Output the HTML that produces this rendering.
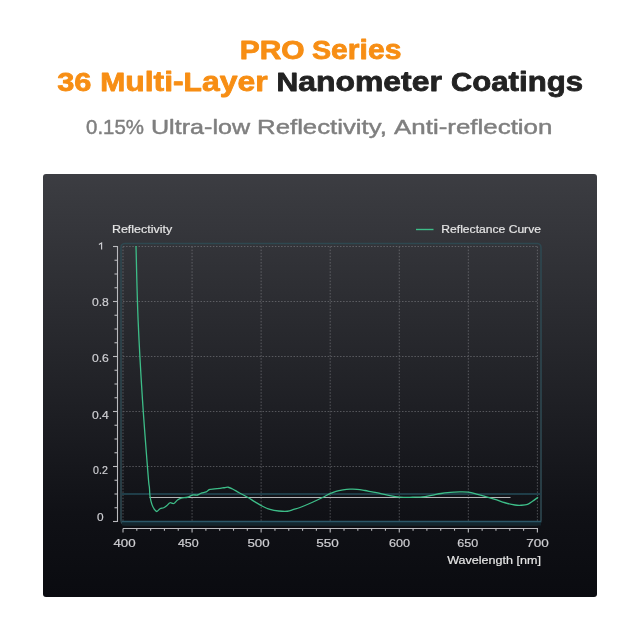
<!DOCTYPE html>
<html><head><meta charset="utf-8">
<style>
html,body{margin:0;padding:0;width:640px;height:640px;overflow:hidden;background:#fff;}
svg{position:absolute;left:0;top:0;will-change:transform;}
text{font-family:"Liberation Sans",sans-serif;}
</style></head><body>
<svg width="640" height="640" viewBox="0 0 640 640">
<defs>
<linearGradient id="bg" x1="0" y1="0" x2="0" y2="1">
<stop offset="0" stop-color="#3c3d42"/>
<stop offset="0.5" stop-color="#212227"/>
<stop offset="0.8" stop-color="#101116"/>
<stop offset="1" stop-color="#0a0b10"/>
</linearGradient>
</defs>
<text x="239.7" y="59.1" font-size="26.3" font-weight="bold" fill="#f78e14" stroke="#f78e14" stroke-width="0.8" stroke-linejoin="round" textLength="64.85" lengthAdjust="spacingAndGlyphs">PRO</text>
<text x="312.01" y="59.1" font-size="26.3" font-weight="bold" fill="#f78e14" stroke="#f78e14" stroke-width="0.8" stroke-linejoin="round" textLength="89.36" lengthAdjust="spacingAndGlyphs">S<tspan font-size="27.6">eries</tspan></text>
<text x="57.22" y="91.4" font-size="26" font-weight="bold" fill="#f78e14" stroke="#f78e14" stroke-width="0.8" stroke-linejoin="round" textLength="34.17" lengthAdjust="spacingAndGlyphs">36</text>
<text x="100.19" y="91.4" font-size="26" font-weight="bold" fill="#f78e14" stroke="#f78e14" stroke-width="0.8" stroke-linejoin="round" textLength="167.37" lengthAdjust="spacingAndGlyphs">M<tspan font-size="27.6">ulti-</tspan>L<tspan font-size="27.6">ayer</tspan></text>
<text x="276.59" y="91.4" font-size="26" font-weight="bold" fill="#222222" stroke="#222222" stroke-width="0.8" stroke-linejoin="round" textLength="165.31" lengthAdjust="spacingAndGlyphs">N<tspan font-size="27.6">anometer</tspan></text>
<text x="451.07" y="91.4" font-size="26" font-weight="bold" fill="#222222" stroke="#222222" stroke-width="0.8" stroke-linejoin="round" textLength="131.95" lengthAdjust="spacingAndGlyphs">C<tspan font-size="27.6">oatings</tspan></text>
<text x="86.09" y="133.8" font-size="20.2" font-weight="normal" fill="#7f7f7f" stroke="#7f7f7f" stroke-width="0.45" stroke-linejoin="round" textLength="57.91" lengthAdjust="spacingAndGlyphs">0.15%</text>
<text x="150.95" y="133.8" font-size="20.2" font-weight="normal" fill="#7f7f7f" stroke="#7f7f7f" stroke-width="0.45" stroke-linejoin="round" textLength="99.2" lengthAdjust="spacingAndGlyphs">Ultra-low</text>
<text x="257.05" y="133.8" font-size="20.2" font-weight="normal" fill="#7f7f7f" stroke="#7f7f7f" stroke-width="0.45" stroke-linejoin="round" textLength="129.85" lengthAdjust="spacingAndGlyphs">Reflectivity,</text>
<text x="394.1" y="133.8" font-size="20.2" font-weight="normal" fill="#7f7f7f" stroke="#7f7f7f" stroke-width="0.45" stroke-linejoin="round" textLength="158.32" lengthAdjust="spacingAndGlyphs">Anti-reflection</text>
<rect x="43" y="174" width="554" height="423" rx="3" fill="url(#bg)"/>
<g stroke="#8e8f94" stroke-width="1" stroke-dasharray="1.5 1.6" fill="none" opacity="0.5">
<line x1="123.00" y1="246.5" x2="123.00" y2="521.5"/>
<line x1="192.07" y1="246.5" x2="192.07" y2="521.5"/>
<line x1="261.13" y1="246.5" x2="261.13" y2="521.5"/>
<line x1="330.20" y1="246.5" x2="330.20" y2="521.5"/>
<line x1="399.27" y1="246.5" x2="399.27" y2="521.5"/>
<line x1="468.33" y1="246.5" x2="468.33" y2="521.5"/>
<line x1="537.40" y1="246.5" x2="537.40" y2="521.5"/>
<line x1="123.0" y1="466.50" x2="537.4" y2="466.50"/>
<line x1="123.0" y1="411.50" x2="537.4" y2="411.50"/>
<line x1="123.0" y1="356.50" x2="537.4" y2="356.50"/>
<line x1="123.0" y1="301.50" x2="537.4" y2="301.50"/>
<line x1="123.0" y1="246.50" x2="537.4" y2="246.50"/>
</g>
<rect x="121" y="243.5" width="420" height="281" rx="4" fill="none" stroke="#2e4850" stroke-width="1.6"/>
<line x1="122" y1="494" x2="541" y2="494" stroke="#1f3d48" stroke-width="2"/>
<rect x="122" y="522" width="419" height="3.5" fill="#13252d"/>
<line x1="122" y1="521.5" x2="541" y2="521.5" stroke="#2b5768" stroke-width="1.3"/>
<line x1="149.5" y1="497.5" x2="510.5" y2="497.5" stroke="#b4b4b6" stroke-width="1"/>
<path d="M136.00,246.00 C136.35,258.33 137.02,294.33 138.10,320.00 C139.18,345.67 140.83,374.17 142.50,400.00 C144.17,425.83 146.95,460.42 148.10,475.00 C149.25,489.58 149.08,483.96 149.40,487.50 C149.72,491.04 149.58,493.43 150.00,496.25 C150.42,499.07 151.17,502.21 151.90,504.40 C152.63,506.59 153.57,508.22 154.40,509.40 C155.23,510.58 155.97,511.61 156.90,511.50 C157.83,511.39 158.86,509.38 160.00,508.75 C161.14,508.12 162.60,508.27 163.75,507.75 C164.90,507.23 165.86,506.43 166.90,505.60 C167.94,504.77 168.86,503.10 170.00,502.75 C171.14,502.40 172.50,503.96 173.75,503.50 C175.00,503.04 176.25,500.90 177.50,500.00 C178.75,499.10 179.58,498.56 181.25,498.10 C182.92,497.64 185.62,497.77 187.50,497.25 C189.38,496.73 190.83,495.38 192.50,495.00 C194.17,494.62 196.04,495.32 197.50,495.00 C198.96,494.68 199.79,493.62 201.25,493.10 C202.71,492.58 204.79,492.52 206.25,491.90 C207.71,491.28 207.71,490.00 210.00,489.40 C212.29,488.80 217.71,488.57 220.00,488.30 C222.29,488.03 222.40,487.93 223.75,487.75 C225.10,487.57 226.64,487.04 228.10,487.25 C229.56,487.46 230.72,488.12 232.50,489.00 C234.28,489.88 236.25,491.12 238.75,492.50 C241.25,493.88 244.79,495.68 247.50,497.25 C250.21,498.82 252.50,500.40 255.00,501.90 C257.50,503.40 260.00,505.00 262.50,506.25 C265.00,507.50 267.29,508.61 270.00,509.40 C272.71,510.19 275.83,510.69 278.75,511.00 C281.67,511.31 285.00,511.52 287.50,511.25 C290.00,510.98 291.67,510.02 293.75,509.40 C295.83,508.77 296.88,508.69 300.00,507.50 C303.12,506.31 308.75,503.92 312.50,502.25 C316.25,500.58 319.58,498.94 322.50,497.50 C325.42,496.06 327.75,494.63 330.00,493.60 C332.25,492.57 333.83,491.92 336.00,491.30 C338.17,490.68 340.67,490.25 343.00,489.90 C345.33,489.55 347.67,489.30 350.00,489.20 C352.33,489.10 354.50,489.08 357.00,489.30 C359.50,489.52 362.50,490.07 365.00,490.50 C367.50,490.93 369.50,491.43 372.00,491.90 C374.50,492.37 377.00,492.68 380.00,493.30 C383.00,493.92 386.67,494.97 390.00,495.60 C393.33,496.23 397.00,496.80 400.00,497.10 C403.00,497.40 405.50,497.40 408.00,497.40 C410.50,497.40 412.58,497.20 415.00,497.10 C417.42,497.00 420.00,497.05 422.50,496.80 C425.00,496.55 427.92,495.97 430.00,495.60 C432.08,495.23 433.17,494.95 435.00,494.60 C436.83,494.25 438.92,493.83 441.00,493.50 C443.08,493.17 445.33,492.83 447.50,492.60 C449.67,492.37 451.92,492.22 454.00,492.10 C456.08,491.98 457.58,491.88 460.00,491.90 C462.42,491.92 465.58,491.78 468.50,492.20 C471.42,492.62 474.75,493.70 477.50,494.40 C480.25,495.10 482.08,495.58 485.00,496.40 C487.92,497.22 491.67,498.24 495.00,499.30 C498.33,500.36 501.67,501.80 505.00,502.75 C508.33,503.70 512.29,504.58 515.00,505.00 C517.71,505.42 519.17,505.35 521.25,505.25 C523.33,505.15 525.62,505.07 527.50,504.40 C529.38,503.73 530.73,502.44 532.50,501.25 C534.27,500.06 537.17,497.92 538.10,497.25" fill="none" stroke="#3dbd88" stroke-width="1.3" stroke-linejoin="round"/>
<g stroke="#bababe" stroke-width="1.1">
<line x1="117.5" y1="246" x2="117.5" y2="522"/>
<line x1="123" y1="528.5" x2="538" y2="528.5"/>
<line x1="113.00" y1="246.50" x2="117.5" y2="246.50"/>
<line x1="114.50" y1="260.25" x2="117.5" y2="260.25"/>
<line x1="114.50" y1="274.00" x2="117.5" y2="274.00"/>
<line x1="114.50" y1="287.75" x2="117.5" y2="287.75"/>
<line x1="113.00" y1="301.50" x2="117.5" y2="301.50"/>
<line x1="114.50" y1="315.25" x2="117.5" y2="315.25"/>
<line x1="114.50" y1="329.00" x2="117.5" y2="329.00"/>
<line x1="114.50" y1="342.75" x2="117.5" y2="342.75"/>
<line x1="113.00" y1="356.50" x2="117.5" y2="356.50"/>
<line x1="114.50" y1="370.25" x2="117.5" y2="370.25"/>
<line x1="114.50" y1="384.00" x2="117.5" y2="384.00"/>
<line x1="114.50" y1="397.75" x2="117.5" y2="397.75"/>
<line x1="113.00" y1="411.50" x2="117.5" y2="411.50"/>
<line x1="114.50" y1="425.25" x2="117.5" y2="425.25"/>
<line x1="114.50" y1="439.00" x2="117.5" y2="439.00"/>
<line x1="114.50" y1="452.75" x2="117.5" y2="452.75"/>
<line x1="113.00" y1="466.50" x2="117.5" y2="466.50"/>
<line x1="114.50" y1="480.25" x2="117.5" y2="480.25"/>
<line x1="114.50" y1="494.00" x2="117.5" y2="494.00"/>
<line x1="114.50" y1="507.75" x2="117.5" y2="507.75"/>
<line x1="113.00" y1="521.50" x2="117.5" y2="521.50"/>
<line x1="123.00" y1="528.5" x2="123.00" y2="532.5"/>
<line x1="136.81" y1="528.5" x2="136.81" y2="530.7"/>
<line x1="150.63" y1="528.5" x2="150.63" y2="530.7"/>
<line x1="164.44" y1="528.5" x2="164.44" y2="530.7"/>
<line x1="178.25" y1="528.5" x2="178.25" y2="530.7"/>
<line x1="192.07" y1="528.5" x2="192.07" y2="532.5"/>
<line x1="205.88" y1="528.5" x2="205.88" y2="530.7"/>
<line x1="219.69" y1="528.5" x2="219.69" y2="530.7"/>
<line x1="233.51" y1="528.5" x2="233.51" y2="530.7"/>
<line x1="247.32" y1="528.5" x2="247.32" y2="530.7"/>
<line x1="261.13" y1="528.5" x2="261.13" y2="532.5"/>
<line x1="274.95" y1="528.5" x2="274.95" y2="530.7"/>
<line x1="288.76" y1="528.5" x2="288.76" y2="530.7"/>
<line x1="302.57" y1="528.5" x2="302.57" y2="530.7"/>
<line x1="316.39" y1="528.5" x2="316.39" y2="530.7"/>
<line x1="330.20" y1="528.5" x2="330.20" y2="532.5"/>
<line x1="344.01" y1="528.5" x2="344.01" y2="530.7"/>
<line x1="357.83" y1="528.5" x2="357.83" y2="530.7"/>
<line x1="371.64" y1="528.5" x2="371.64" y2="530.7"/>
<line x1="385.45" y1="528.5" x2="385.45" y2="530.7"/>
<line x1="399.27" y1="528.5" x2="399.27" y2="532.5"/>
<line x1="413.08" y1="528.5" x2="413.08" y2="530.7"/>
<line x1="426.89" y1="528.5" x2="426.89" y2="530.7"/>
<line x1="440.71" y1="528.5" x2="440.71" y2="530.7"/>
<line x1="454.52" y1="528.5" x2="454.52" y2="530.7"/>
<line x1="468.33" y1="528.5" x2="468.33" y2="532.5"/>
<line x1="482.15" y1="528.5" x2="482.15" y2="530.7"/>
<line x1="495.96" y1="528.5" x2="495.96" y2="530.7"/>
<line x1="509.77" y1="528.5" x2="509.77" y2="530.7"/>
<line x1="523.59" y1="528.5" x2="523.59" y2="530.7"/>
<line x1="537.40" y1="528.5" x2="537.40" y2="532.5"/>
</g>
<text x="111.91" y="232.5" font-size="10.5" font-weight="normal" fill="#e6e6e6" stroke="#e6e6e6" stroke-width="0.18" stroke-linejoin="round" textLength="60.31" lengthAdjust="spacingAndGlyphs">Reflectivity</text>
<text x="441.35" y="233" font-size="10.5" font-weight="normal" fill="#e6e6e6" stroke="#e6e6e6" stroke-width="0.18" stroke-linejoin="round" textLength="99.59" lengthAdjust="spacingAndGlyphs">Reflectance Curve</text>
<text x="447.2" y="564.2" font-size="10.5" font-weight="normal" fill="#e6e6e6" stroke="#e6e6e6" stroke-width="0.18" stroke-linejoin="round" textLength="93.79" lengthAdjust="spacingAndGlyphs">Wavelength [nm]</text>
<text x="113.4" y="546.9" font-size="10.5" font-weight="normal" fill="#cfcfd3" stroke="#cfcfd3" stroke-width="0.18" stroke-linejoin="round" textLength="22.27" lengthAdjust="spacingAndGlyphs">400</text>
<text x="177.9" y="546.9" font-size="10.5" font-weight="normal" fill="#cfcfd3" stroke="#cfcfd3" stroke-width="0.18" stroke-linejoin="round" textLength="20.83" lengthAdjust="spacingAndGlyphs">450</text>
<text x="247.43" y="546.9" font-size="10.5" font-weight="normal" fill="#cfcfd3" stroke="#cfcfd3" stroke-width="0.18" stroke-linejoin="round" textLength="22.24" lengthAdjust="spacingAndGlyphs">500</text>
<text x="316.31" y="546.9" font-size="10.5" font-weight="normal" fill="#cfcfd3" stroke="#cfcfd3" stroke-width="0.18" stroke-linejoin="round" textLength="22.57" lengthAdjust="spacingAndGlyphs">550</text>
<text x="389.0" y="546.9" font-size="10.5" font-weight="normal" fill="#cfcfd3" stroke="#cfcfd3" stroke-width="0.18" stroke-linejoin="round" textLength="21.14" lengthAdjust="spacingAndGlyphs">600</text>
<text x="457.3" y="546.9" font-size="10.5" font-weight="normal" fill="#cfcfd3" stroke="#cfcfd3" stroke-width="0.18" stroke-linejoin="round" textLength="20.93" lengthAdjust="spacingAndGlyphs">650</text>
<text x="526.31" y="546.9" font-size="10.5" font-weight="normal" fill="#cfcfd3" stroke="#cfcfd3" stroke-width="0.18" stroke-linejoin="round" textLength="22.57" lengthAdjust="spacingAndGlyphs">700</text>
<text x="91.9" y="305.6" font-size="10.5" font-weight="normal" fill="#cfcfd3" stroke="#cfcfd3" stroke-width="0.18" stroke-linejoin="round" textLength="16.91" lengthAdjust="spacingAndGlyphs">0.8</text>
<text x="91.9" y="361.9" font-size="10.5" font-weight="normal" fill="#cfcfd3" stroke="#cfcfd3" stroke-width="0.18" stroke-linejoin="round" textLength="16.91" lengthAdjust="spacingAndGlyphs">0.6</text>
<text x="91.9" y="419.4" font-size="10.5" font-weight="normal" fill="#cfcfd3" stroke="#cfcfd3" stroke-width="0.18" stroke-linejoin="round" textLength="16.91" lengthAdjust="spacingAndGlyphs">0.4</text>
<text x="93.1" y="473.75" font-size="10.5" font-weight="normal" fill="#cfcfd3" stroke="#cfcfd3" stroke-width="0.18" stroke-linejoin="round" textLength="14.77" lengthAdjust="spacingAndGlyphs">0.2</text>
<path d="M98.9,244.4 L101.6,242.9 L101.6,249.6" fill="none" stroke="#cfcfd3" stroke-width="1.15" stroke-linejoin="miter"/>
<text x="100.2" y="521.25" font-size="10.5" fill="#cfcfd3" stroke="#cfcfd3" stroke-width="0.18" text-anchor="middle" textLength="6.6" lengthAdjust="spacingAndGlyphs">0</text>
<line x1="416" y1="229.5" x2="433.5" y2="229.5" stroke="#3dbd88" stroke-width="1.4"/>
</svg>
</body></html>
